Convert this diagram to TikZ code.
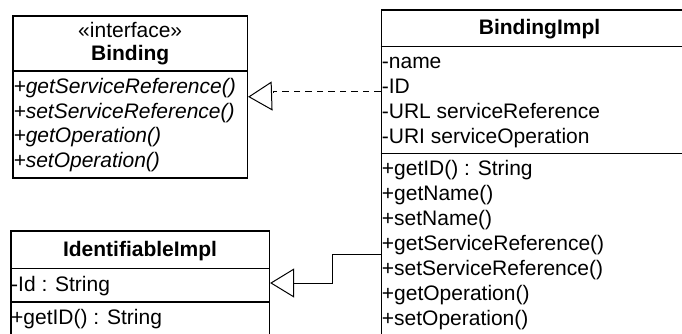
\documentclass[tikz,border=0pt]{standalone}
\usepackage{fontspec}
\setmainfont{Liberation Sans}
\usetikzlibrary{arrows.meta}
\begin{document}
\begin{tikzpicture}[x=1pt, y=-1pt,
  font=\fontsize{21}{25}\selectfont,
  classbox/.style={draw, line width=1.6pt, inner sep=0pt, anchor=north west},
  compsep/.style={line width=1.6pt},
  row/.style={anchor=base west, inner sep=0pt},
  title/.style={anchor=base, inner sep=0pt},
  titlebold/.style={title, font=\fontsize{21}{25}\selectfont\bfseries},
  realize/.style={line width=1pt, dash pattern=on 6.5pt off 5pt,
    -{Triangle[open, length=24pt, width=29pt, fill=white]}},
  inherit/.style={line width=1pt,
    -{Triangle[open, length=24pt, width=29pt, fill=white]}}]
\useasboundingbox (0,0) rectangle (682,333);
\clip (0,0) rectangle (682,333);

% interface Binding
\node[classbox, minimum width=234.2pt, minimum height=162pt] (binding) at (12.3,15) {};
\draw[compsep] (binding.west |- 0,71) -- (binding.east |- 0,71);
\node[title] (binding-st) at (binding.north |- 0,37.5) {«interface»};
\node[titlebold] (binding-nm) at (binding.north |- 0,60) {Binding};
\node[row] (binding-m1) at (13.3,93.5) {\itshape +getServiceReference()};
\node[row] (binding-m2) at (13.3,118) {\itshape +setServiceReference()};
\node[row] (binding-m3) at (13.3,142.5) {\itshape +getOperation()};
\node[row] (binding-m4) at (13.3,167) {\itshape +setOperation()};

% class BindingImpl
\node[classbox, minimum width=316pt, minimum height=345pt] (impl) at (380.7,9) {};
\draw[compsep] (impl.west |- 0,46.5) -- (impl.east |- 0,46.5);
\draw[compsep] (impl.west |- 0,153.5) -- (impl.east |- 0,153.5);
\node[titlebold] (impl-nm) at (impl.north |- 0,34) {BindingImpl};
\node[row] (impl-a1) at (381.7,68.5) {-name};
\node[row] (impl-a2) at (381.7,93.5) {-ID};
\node[row] (impl-a3) at (381.7,118.5) {-URL serviceReference};
\node[row] (impl-a4) at (381.7,143.5) {-URI serviceOperation};
\node[row] (impl-m1) at (381.7,175) {+getID() : String};
\node[row] (impl-m2) at (381.7,200) {+getName()};
\node[row] (impl-m3) at (381.7,225) {+setName()};
\node[row] (impl-m4) at (381.7,250) {+getServiceReference()};
\node[row] (impl-m5) at (381.7,275) {+setServiceReference()};
\node[row] (impl-m6) at (381.7,300) {+getOperation()};
\node[row] (impl-m7) at (381.7,325) {+setOperation()};

% class IdentifiableImpl
\node[classbox, minimum width=258.5pt, minimum height=125pt] (ident) at (10,230) {};
\draw[compsep] (ident.west |- 0,268.5) -- (ident.east |- 0,268.5);
\draw[compsep] (ident.west |- 0,302) -- (ident.east |- 0,302);
\node[titlebold] (ident-nm) at (ident.north |- 0,256) {IdentifiableImpl};
\node[row] (ident-a1) at (11,291) {-Id : String};
\node[row] (ident-m1) at (11,324.5) {+getID() : String};

% BindingImpl realizes Binding
\coordinate (real-from) at ([yshift=-82pt]impl.north west);
\draw[realize] (real-from) -| (273,96) -- (binding.east);

% BindingImpl extends IdentifiableImpl
\coordinate (gen-from) at ([yshift=-245.3pt]impl.north west);
\coordinate (gen-to) at ([yshift=-53pt]ident.north east);
\draw[inherit] (gen-from) -| (332.3,283) -- (gen-to);
\end{tikzpicture}
\end{document}
